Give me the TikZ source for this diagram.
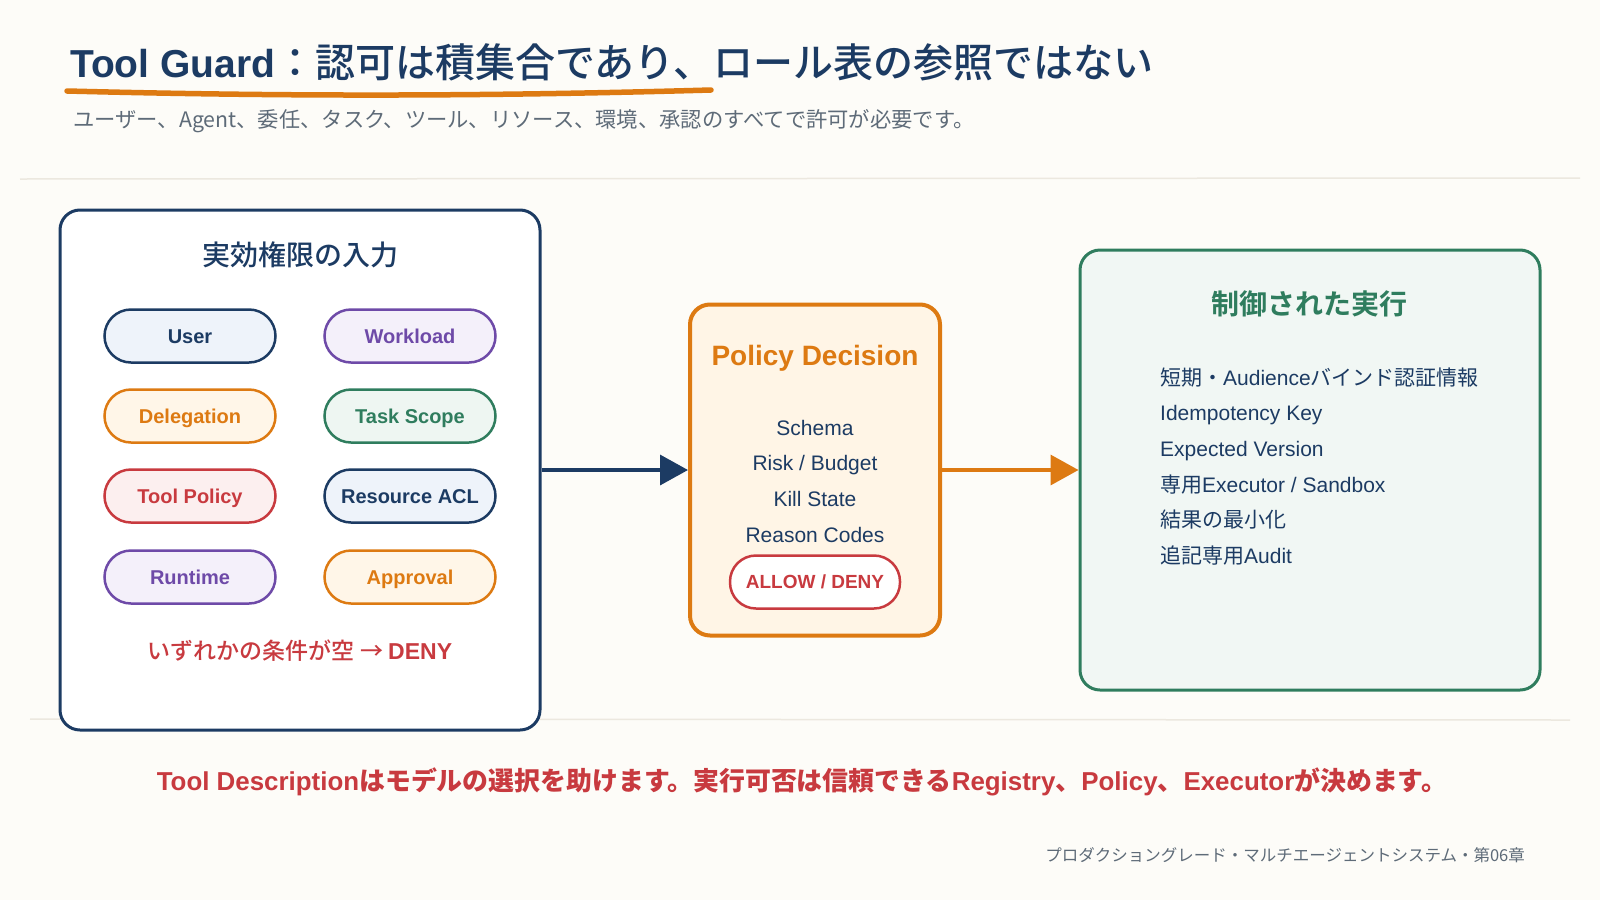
\documentclass[tikz,border=0pt]{standalone}
\usepackage{fontspec}
\setmainfont{Liberation Sans}
\newfontfamily\jp{Noto Sans CJK JP}
\newfontfamily\jpm{Noto Sans CJK JP}[UprightFont=* Medium, BoldFont=* Bold]
\usetikzlibrary{arrows.meta}
\definecolor{bgc}{HTML}{FDFCF8}
\definecolor{navy}{HTML}{1C3B63}
\definecolor{purp}{HTML}{6E4AA8}
\definecolor{orng}{HTML}{DD7A12}
\definecolor{grn}{HTML}{2F7D5E}
\definecolor{redc}{HTML}{C83A3F}
\definecolor{grayt}{HTML}{5E6B78}
\definecolor{sepc}{HTML}{ECE8DF}
\definecolor{fblue}{HTML}{EEF3FA}
\definecolor{fpurp}{HTML}{F4F0FA}
\definecolor{forng}{HTML}{FFF6E8}
\definecolor{fgrn}{HTML}{EEF6F2}
\definecolor{fred}{HTML}{FCEFEF}
\definecolor{fpol}{HTML}{FFF5E6}
\definecolor{fright}{HTML}{F1F7F4}
\newcommand\fsz[1]{\fontsize{#1}{#1}\selectfont}
\tikzset{
  pill/.style={draw=#1, line width=2.5pt, rounded corners=26.5pt, minimum width=171pt, minimum height=53pt,
    inner sep=0pt, text height=14pt, text depth=0pt, font=\fsz{20}\bfseries, text=#1},
  txt/.style={inner sep=0pt, anchor=base},
  bigbox/.style={rounded corners=20pt, line width=3pt},
  sep/.style={draw=sepc, line width=1.5pt},
}
\begin{document}
\begin{tikzpicture}[x=1pt,y=-1pt]
\fill[bgc] (0,0) rectangle (1600,900);
\useasboundingbox (0,0) rectangle (1600,900);

% separators
\draw[sep] (20,179) -- (1580,178);
\draw[sep] (30,719) -- (1570,720);

% title
\node[txt, anchor=base west, text=navy] (title) at (70,77)
  {\fsz{39}\bfseries Tool Guard{\jpm\mdseries\fsz{40}：認可は積集合であり、ロール表の参照ではない}};
\draw[orng, line width=5.5pt, line cap=round] (67,91) .. controls (300,97) and (500,96) .. (711,90);
\node[txt, anchor=base west, text=grayt] (subtitle) at (73,127)
  {\fsz{21.3}\jp ユーザー、Agent、委任、タスク、ツール、リソース、環境、承認のすべてで許可が必要です。};

% left box
\node[bigbox, draw=navy, fill=white, minimum width=480pt, minimum height=520pt] (inputs) at (300,470) {};
\node[txt, text=navy] (intitle) at (300,265) {\fsz{28}\jpm 実効権限の入力};
\node[pill=navy, fill=fblue] (user) at (190,336) {User};
\node[pill=purp, fill=fpurp] (workload) at (410,336) {Workload};
\node[pill=orng, fill=forng] (deleg) at (190,416) {Delegation};
\node[pill=grn, fill=fgrn] (task) at (410,416) {Task Scope};
\node[pill=redc, fill=fred] (toolpol) at (190,496) {Tool Policy};
\node[pill=navy, fill=fblue] (acl) at (410,496) {Resource ACL};
\node[pill=purp, fill=fpurp] (runtime) at (190,577) {Runtime};
\node[pill=orng, fill=forng] (approval) at (410,577) {Approval};
\node[txt, text=redc] (denynote) at (300,659) {\fsz{23}{\jpm いずれかの条件が空 → }\bfseries DENY};

% policy box
\node[bigbox, draw=orng, line width=4pt, fill=fpol, minimum width=250pt, minimum height=331pt] (policy) at (815,470) {};
\node[txt, text=orng] (poltitle) at (815,365) {\fsz{28}\bfseries Policy Decision};
\node[txt, text=navy] (p1) at (815,435.5) {\fsz{21}Schema};
\node[txt, text=navy] (p2) at (815,470.5) {\fsz{21}Risk / Budget};
\node[txt, text=navy] (p3) at (815,506.5) {\fsz{21}Kill State};
\node[txt, text=navy] (p4) at (815,542.5) {\fsz{21}Reason Codes};
\node[draw=redc, line width=2.5pt, fill=white, rounded corners=26pt, minimum width=170pt, minimum height=53pt,
  inner sep=0pt, text height=13.7pt, text depth=0pt, text=redc, font=\fsz{19}\bfseries] (allow) at (815,582) {ALLOW / DENY};

% right box
\node[bigbox, draw=grn, fill=fright, minimum width=460pt, minimum height=440pt] (exec) at (1310,470) {};
\node[txt, text=grn] (exectitle) at (1309,314) {\fsz{28}\jpm\bfseries 制御された実行};
\node[txt, anchor=base west, text=navy] (e1) at (1160,385.5) {\fsz{21}{\jp 短期・}Audience{\jp バインド認証情報}};
\node[txt, anchor=base west, text=navy] (e2) at (1160,420.5) {\fsz{21}Idempotency Key};
\node[txt, anchor=base west, text=navy] (e3) at (1160,456.5) {\fsz{21}Expected Version};
\node[txt, anchor=base west, text=navy] (e4) at (1160,492.5) {\fsz{21}{\jp 専用}Executor / Sandbox};
\node[txt, anchor=base west, text=navy] (e5) at (1160,527.5) {\fsz{21}\jp 結果の最小化};
\node[txt, anchor=base west, text=navy] (e6) at (1160,563.5) {\fsz{21}{\jp 追記専用}Audit};

% arrows
\draw[navy, line width=3.5pt, -{Triangle[length=28pt,width=30pt]}] (inputs.east) -- (policy.west);
\draw[orng, line width=3.5pt, -{Triangle[length=28pt,width=30pt]}] (policy.east) -- (exec.west);

% bottom
\node[txt, text=redc] (bottom) at (802,790)
  {\fsz{25.9}\bfseries Tool Description{\jp はモデルの選択を助けます。実行可否は信頼できる}Registry{\jp 、}Policy{\jp 、}Executor{\jp が決めます。}};
\node[txt, anchor=base east, text=grayt] (footer) at (1525,861)
  {\fsz{16.5}\jp プロダクショングレード・マルチエージェントシステム・第06章};
\end{tikzpicture}
\end{document}
